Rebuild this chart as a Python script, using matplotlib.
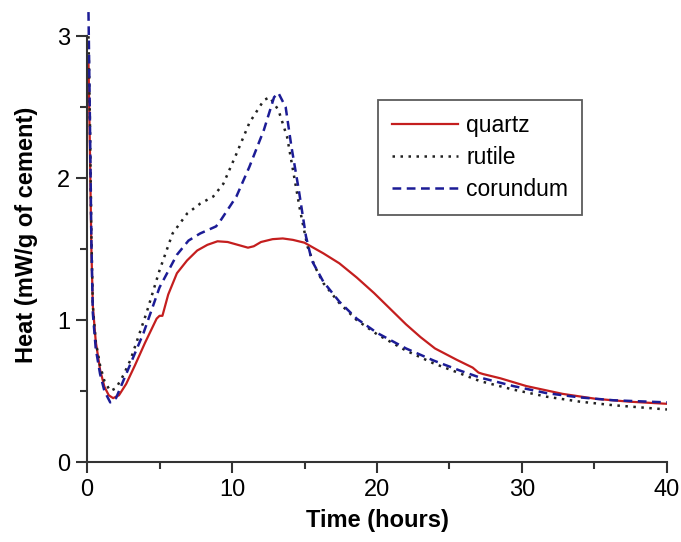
import matplotlib
matplotlib.use("Agg")
import matplotlib.pyplot as plt
from matplotlib.ticker import MultipleLocator

# heat flow curves (time in hours, heat in mW/g of cement)
quartz_t = [0.1, 0.2, 0.3, 0.4, 0.6, 0.9, 1.2, 1.5, 1.8, 2.2, 2.7, 3.3, 4.0, 4.8, 5.0, 5.2,
            5.6, 6.2, 6.9, 7.6, 8.3, 9.0, 9.7, 10.4, 11.1, 11.5, 12.0, 12.8, 13.5, 14.2, 15.0,
            16.3, 17.4, 18.6, 19.8, 21.0, 22.0, 23.0, 24.0, 25.5, 26.6, 27.0, 27.3, 28.5,
            30.3, 32.8, 35.1, 37.4, 40.0]
quartz_q = [2.82, 2.2, 1.5, 1.1, 0.85, 0.65, 0.53, 0.47, 0.45, 0.47, 0.55, 0.68, 0.84, 1.01, 1.03, 1.03,
            1.18, 1.33, 1.42, 1.49, 1.53, 1.555, 1.55, 1.53, 1.51, 1.52, 1.55, 1.57, 1.575, 1.565, 1.545,
            1.47, 1.40, 1.30, 1.19, 1.07, 0.97, 0.88, 0.80, 0.72, 0.665, 0.63, 0.62, 0.59,
            0.535, 0.48, 0.445, 0.425, 0.41]

rutile_t = [0.1, 0.2, 0.3, 0.4, 0.6, 0.9, 1.2, 1.6, 2.0, 2.5, 3.0, 3.4, 4.1, 5.0, 5.9, 6.9, 7.8,
            8.7, 9.4, 10.3, 11.2, 12.2, 12.6, 13.2, 13.8, 14.2, 14.7, 15.2, 15.7, 16.3, 17.4,
            18.6, 20.0, 22.0, 23.9, 25.7, 27.1, 29.4, 31.7, 34.0, 36.3, 40.0]
rutile_q = [3.0, 2.4, 1.6, 1.1, 0.85, 0.68, 0.57, 0.50, 0.52, 0.61, 0.72, 0.84, 1.05, 1.35, 1.61, 1.75, 1.82,
            1.87, 1.96, 2.17, 2.39, 2.55, 2.57, 2.48, 2.29, 2.06, 1.77, 1.52, 1.38, 1.26, 1.12,
            1.0, 0.90, 0.785, 0.695, 0.625, 0.57, 0.51, 0.46, 0.425, 0.40, 0.37]

corundum_t = [0.1, 0.2, 0.3, 0.4, 0.6, 0.9, 1.2, 1.6, 2.0, 2.7, 3.9, 5.0, 6.2, 7.0, 7.8, 8.9, 9.2,
              10.3, 11.2, 12.2, 12.9, 13.2, 13.7, 14.1, 14.6, 15.1, 15.5, 16.3, 17.4, 18.6,
              20.0, 22.0, 23.9, 25.7, 27.1, 29.4, 31.7, 34.0, 36.3, 40.0]
corundum_q = [3.17, 2.4, 1.55, 1.05, 0.80, 0.62, 0.50, 0.42, 0.45, 0.62, 0.91, 1.23, 1.46, 1.56, 1.61, 1.66, 1.70,
              1.87, 2.08, 2.34, 2.57, 2.60, 2.50, 2.22, 1.92, 1.59, 1.42, 1.27, 1.13, 1.01,
              0.91, 0.80, 0.715, 0.645, 0.595, 0.535, 0.485, 0.455, 0.435, 0.42]

plt.rcParams['font.family'] = ['Liberation Sans', 'DejaVu Sans']

fig = plt.figure(figsize=(6.81, 5.42), dpi=100)
ax = fig.add_axes([0.1278, 0.1476, 0.8516, 0.838])

ax.plot(quartz_t, quartz_q, color='#c41e1e', linewidth=1.6, label='quartz')
ax.plot(rutile_t, rutile_q, color='#222222', linewidth=1.8, linestyle=(0, (1, 2.2)), label='rutile')
ax.plot(corundum_t, corundum_q, color='#1c1c96', linewidth=1.8, linestyle=(0, (3.5, 2.2)), label='corundum')

ax.set_xlim(0, 40)
ax.set_ylim(0, 3.2)
ax.spines['top'].set_visible(False)
ax.spines['right'].set_visible(False)
ax.spines['left'].set_bounds(0, 3)
for s in ('left', 'bottom'):
    ax.spines[s].set_linewidth(1.5)
    ax.spines[s].set_color('#333333')

ax.xaxis.set_major_locator(MultipleLocator(10))
ax.xaxis.set_minor_locator(MultipleLocator(5))
ax.yaxis.set_major_locator(MultipleLocator(1))
ax.yaxis.set_minor_locator(MultipleLocator(0.5))
ax.tick_params(which='major', length=8, width=1.5, color='#333333', labelsize=17, pad=4)
ax.tick_params(which='minor', length=5, width=1.5, color='#333333')

ax.set_xlabel('Time (hours)', fontsize=17, fontweight='bold', labelpad=6)
ax.set_ylabel('Heat (mW/g of cement)', fontsize=17, fontweight='bold', labelpad=14)

leg = ax.legend(loc='upper left', bbox_to_anchor=(0.502, 0.797), fontsize=16.5,
                frameon=True, fancybox=False, handlelength=2.9, handletextpad=0.35,
                labelspacing=0.4, borderpad=0.6, borderaxespad=0)
leg.get_frame().set_edgecolor('#333333')
leg.get_frame().set_linewidth(1.3)

fig.savefig('out.png', dpi=100)
